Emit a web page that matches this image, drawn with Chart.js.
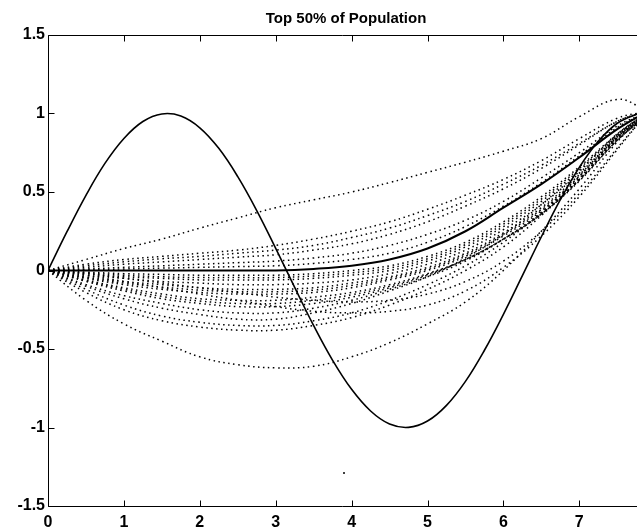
<!DOCTYPE html>
<html>
<head>
<meta charset="utf-8">
<script src="https://cdn.jsdelivr.net/npm/chart.js@4"></script>
<style>
  body { margin: 0; background: #fff; }
  #wrap { width: 637px; height: 527px; }
</style>
</head>
<body>
<div id="wrap"><canvas id="popChart"></canvas></div>
<script>
// ticks
const xTicks = [0, 1, 2, 3, 4, 5, 6, 7];
const yTicks = [-1.5, -1, -0.5, 0, 0.5, 1, 1.5];

// target curve (solid)
const sineX = [0, 0.25, 0.5, 0.75, 1, 1.25, 1.5, 1.75, 2, 2.25, 2.5, 2.75, 3, 3.25, 3.5, 3.75,
  4, 4.25, 4.5, 4.75, 5, 5.25, 5.5, 5.75, 6, 6.25, 6.5, 6.75, 7, 7.25, 7.5, 7.75, 7.85];
const sineY = [0, 0.247, 0.479, 0.682, 0.841, 0.949, 0.997, 0.984, 0.909, 0.778, 0.598, 0.382,
  0.141, -0.108, -0.351, -0.572, -0.757, -0.895, -0.978, -0.999, -0.959, -0.859, -0.706, -0.508,
  -0.279, -0.033, 0.215, 0.451, 0.657, 0.823, 0.938, 0.994, 1.0];

// population curves (dotted), sampled at popX
const popX = [0, 0.5, 1, 1.5, 2, 2.5, 3, 3.5, 4, 4.5, 5, 5.5, 6, 6.5, 7, 7.5, 7.85];
const bestFit = [0, 0, 0, 0, 0, 0, 0, 0.01, 0.03, 0.07, 0.14, 0.25, 0.40, 0.55, 0.72, 0.90, 1.0];
const upperA = [0, 0.07, 0.14, 0.2, 0.27, 0.335, 0.4, 0.45, 0.5, 0.56, 0.625, 0.69, 0.76, 0.84, 0.98, 1.09, 1.03];
const upperB = [0, 0.04, 0.07, 0.09, 0.11, 0.13, 0.16, 0.2, 0.25, 0.31, 0.39, 0.48, 0.58, 0.7, 0.84, 0.97, 1.01];
const upperP3 = [0, 0.03, 0.055, 0.075, 0.09, 0.11, 0.13, 0.16, 0.21, 0.27, 0.35, 0.44, 0.55, 0.67, 0.81, 0.95, 1.01];
const upperP2 = [0, 0.02, 0.04, 0.055, 0.07, 0.085, 0.1, 0.13, 0.17, 0.23, 0.31, 0.41, 0.52, 0.65, 0.8, 0.95, 1.01];
const upperP1 = [0, 0.01, 0.02, 0.03, 0.04, 0.05, 0.06, 0.08, 0.11, 0.16, 0.23, 0.32, 0.44, 0.59, 0.75, 0.92, 1.0];
const upperP0 = [0, 0.005, 0.01, 0.015, 0.02, 0.025, 0.03, 0.045, 0.07, 0.11, 0.18, 0.28, 0.41, 0.56, 0.73, 0.91, 1.0];
const lowN1 = [0, -0.01, -0.02, -0.025, -0.03, -0.03, -0.03, -0.02, 0.0, 0.03, 0.09, 0.18, 0.31, 0.47, 0.66, 0.87, 0.99];
const lowN2a = [0, -0.015, -0.03, -0.04, -0.045, -0.045, -0.045, -0.035, -0.015, 0.015, 0.075, 0.165, 0.295, 0.455, 0.65, 0.865, 0.99];
const lowN2 = [0, -0.02, -0.04, -0.05, -0.06, -0.06, -0.06, -0.05, -0.03, 0.0, 0.06, 0.15, 0.28, 0.44, 0.64, 0.86, 0.99];
const lowN3 = [0, -0.03, -0.05, -0.07, -0.08, -0.09, -0.09, -0.08, -0.06, -0.02, 0.04, 0.13, 0.26, 0.42, 0.62, 0.85, 0.98];
const lowN4 = [0, -0.04, -0.07, -0.09, -0.11, -0.12, -0.12, -0.11, -0.08, -0.04, 0.02, 0.11, 0.24, 0.40, 0.61, 0.85, 0.98];
const lowN4a = [0, -0.045, -0.08, -0.105, -0.125, -0.135, -0.135, -0.125, -0.095, -0.05, 0.01, 0.1, 0.23, 0.39, 0.6, 0.845, 0.975];
const lowN5 = [0, -0.05, -0.09, -0.12, -0.14, -0.15, -0.15, -0.14, -0.11, -0.06, 0.0, 0.09, 0.22, 0.38, 0.59, 0.84, 0.97];
const lowN6 = [0, -0.06, -0.11, -0.15, -0.18, -0.19, -0.19, -0.17, -0.14, -0.09, -0.02, 0.07, 0.2, 0.36, 0.58, 0.83, 0.97];
const lowN6a = [0, -0.065, -0.12, -0.165, -0.195, -0.21, -0.21, -0.19, -0.155, -0.1, -0.025, 0.07, 0.2, 0.36, 0.575, 0.83, 0.97];
const lowN7 = [0, -0.07, -0.13, -0.18, -0.21, -0.23, -0.23, -0.21, -0.17, -0.11, -0.03, 0.07, 0.2, 0.36, 0.57, 0.83, 0.97];
const lowN8 = [0, -0.09, -0.16, -0.21, -0.25, -0.27, -0.27, -0.24, -0.19, -0.12, -0.04, 0.06, 0.2, 0.37, 0.58, 0.84, 0.98];
const lowL3 = [0, -0.1, -0.18, -0.24, -0.28, -0.31, -0.31, -0.27, -0.21, -0.13, -0.04, 0.08, 0.23, 0.42, 0.63, 0.87, 0.99];
const lowL2a = [0, -0.12, -0.22, -0.29, -0.33, -0.35, -0.35, -0.32, -0.27, -0.19, -0.09, 0.03, 0.18, 0.37, 0.6, 0.86, 0.99];
const lowL2 = [0, -0.14, -0.25, -0.32, -0.36, -0.38, -0.38, -0.35, -0.3, -0.22, -0.12, 0.0, 0.15, 0.35, 0.58, 0.85, 0.99];
const lowL1 = [0, -0.19, -0.34, -0.45, -0.55, -0.6, -0.62, -0.61, -0.55, -0.46, -0.34, -0.2, 0.0, 0.25, 0.52, 0.82, 0.99];
const lateDip = [0, -0.03, -0.07, -0.11, -0.15, -0.19, -0.23, -0.26, -0.27, -0.26, -0.22, -0.13, 0.02, 0.22, 0.47, 0.77, 0.98];
const lateDip2 = [0, -0.02, -0.05, -0.08, -0.11, -0.14, -0.17, -0.19, -0.2, -0.19, -0.15, -0.07, 0.06, 0.25, 0.49, 0.78, 0.98];
const populationY = [upperA, upperB, upperP3, upperP2, upperP1, upperP0, lowN1, lowN2a, lowN2,
  lowN3, lowN4, lowN4a, lowN5, lowN6, lowN6a, lowN7, lowN8, lowL3, lowL2a, lowL2, lowL1,
  lateDip, lateDip2];

// stray point
const strayX = [3.9];
const strayY = [-1.29];

const X_MAX = 7.76;
const TITLE = "Top 50% of Population";
const FONT = '"Liberation Sans", Arial, sans-serif';

function toPoints(xs, ys) {
  return xs.map((x, i) => ({ x, y: ys[i] }));
}

const datasets = populationY.map(ys => ({
  data: toPoints(popX, ys),
  borderColor: "#000",
  borderWidth: 1.5,
  borderDash: [1.5, 3.5],
  pointRadius: 0,
  tension: 0.4,
  fill: false
}));

datasets.push({
  data: toPoints(popX, bestFit),
  borderColor: "#000",
  borderWidth: 2,
  pointRadius: 0,
  tension: 0.4,
  fill: false
});

datasets.push({
  data: toPoints(sineX, sineY),
  borderColor: "#000",
  borderWidth: 1.6,
  pointRadius: 0,
  tension: 0.4,
  fill: false
});

datasets.push({
  type: "scatter",
  data: toPoints(strayX, strayY),
  backgroundColor: "#000",
  borderWidth: 0,
  pointRadius: 1
});

// MATLAB-like box, inward ticks and title
const axesBox = {
  id: "axesBox",
  afterDatasetsDraw(chart) {
    const { ctx, chartArea: a, scales } = chart;
    const L = Math.round(a.left) + 0.5, B = Math.round(a.bottom) + 0.5, T = Math.round(a.top) + 0.5;
    ctx.save();
    ctx.strokeStyle = "#000";
    ctx.lineWidth = 1;
    ctx.beginPath();
    ctx.moveTo(a.right, T); ctx.lineTo(L, T); ctx.lineTo(L, B); ctx.lineTo(a.right, B);
    scales.x.ticks.forEach(t => {
      const px = Math.round(scales.x.getPixelForValue(t.value)) + 0.5;
      ctx.moveTo(px, B); ctx.lineTo(px, B - 6);
      ctx.moveTo(px, T); ctx.lineTo(px, T + 6);
    });
    scales.y.ticks.forEach(t => {
      const py = Math.round(scales.y.getPixelForValue(t.value)) + 0.5;
      ctx.moveTo(L, py); ctx.lineTo(L + 6, py);
    });
    ctx.stroke();
    ctx.fillStyle = "#000";
    ctx.font = "bold 15px " + FONT;
    ctx.textAlign = "center";
    ctx.textBaseline = "alphabetic";
    ctx.fillText(TITLE, scales.x.getPixelForValue(3.927), 23);
    ctx.restore();
  }
};

new Chart(document.getElementById("popChart"), {
  type: "line",
  data: { datasets },
  plugins: [axesBox],
  options: {
    responsive: true,
    maintainAspectRatio: false,
    animation: false,
    layout: { autoPadding: false, padding: { top: 35, left: 0, right: 0, bottom: 0 } },
    plugins: { legend: { display: false }, tooltip: { enabled: false }, title: { display: false } },
    scales: {
      x: {
        type: "linear",
        min: 0,
        max: X_MAX,
        afterBuildTicks: s => { s.ticks = xTicks.map(v => ({ value: v })); },
        afterFit: s => { s.height = 21; s.paddingLeft = 0; s.paddingRight = 0; },
        grid: { display: false, drawTicks: false },
        border: { display: false },
        ticks: { color: "#000", padding: 7, maxRotation: 0, font: { family: FONT, size: 16, weight: "bold" } }
      },
      y: {
        type: "linear",
        min: -1.5,
        max: 1.5,
        afterBuildTicks: s => { s.ticks = yTicks.map(v => ({ value: v })); },
        afterFit: s => { s.width = 48; },
        grid: { display: false, drawTicks: false },
        border: { display: false },
        ticks: {
          color: "#000",
          padding: 3,
          callback: v => String(v),
          font: { family: FONT, size: 16, weight: "bold" }
        }
      }
    }
  }
});
</script>
</body>
</html>
